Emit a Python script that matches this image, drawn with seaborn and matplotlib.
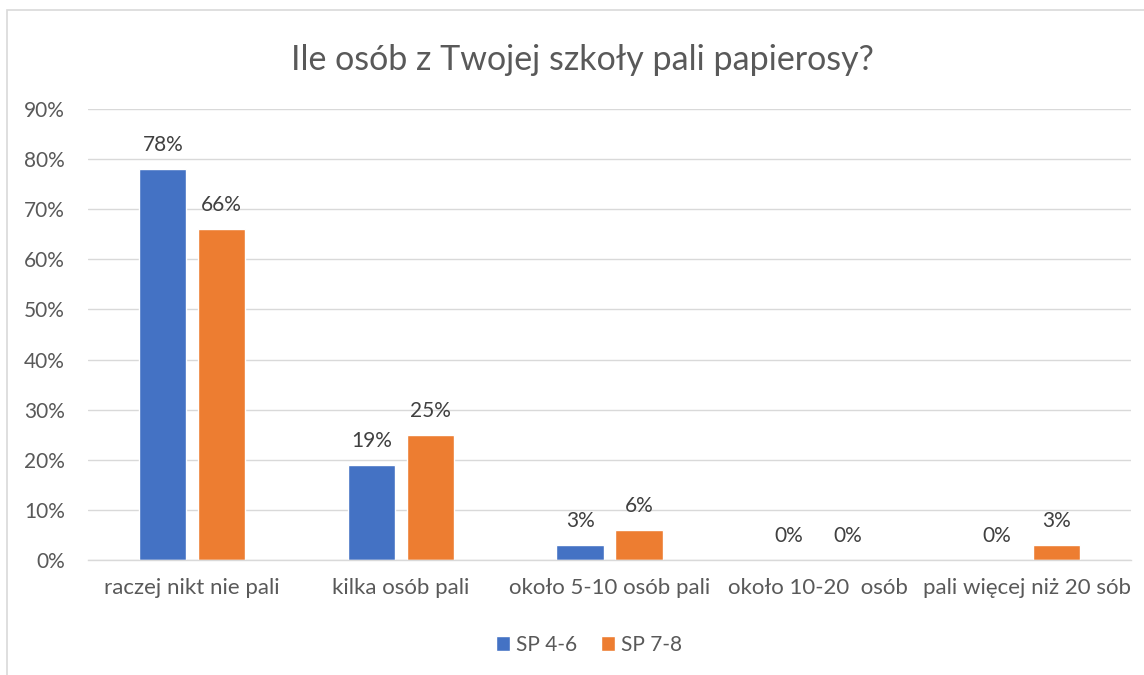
import matplotlib
matplotlib.use("Agg")
import matplotlib.pyplot as plt
import seaborn as sns
import pandas as pd
from matplotlib.patches import Rectangle
from matplotlib.ticker import PercentFormatter

categories = ["raczej nikt nie pali", "kilka osób pali", "około 5-10 osób pali",
              "około 10-20  osób", "pali więcej niż 20 sób"]
series_names = ["SP 4-6", "SP 7-8"]
sp46 = [78, 19, 3, 0, 0]
sp78 = [66, 25, 6, 0, 3]
yticks = [0, 10, 20, 30, 40, 50, 60, 70, 80, 90]
title = "Ile osób z Twojej szkoły pali papierosy?"

df = pd.DataFrame({
    "kategoria": categories * 2,
    "seria": [series_names[0]] * len(categories) + [series_names[1]] * len(categories),
    "wartosc": sp46 + sp78,
})

sns.set_theme(style="white")
plt.rcParams["font.family"] = ["Lato", "DejaVu Sans"]

txt = "#595959"
fig = plt.figure(figsize=(11.44, 6.75), dpi=100)
ax = fig.add_axes([88 / 1144, (675 - 560) / 675, (1131 - 88) / 1144, (560 - 109) / 675])

palette = {"SP 4-6": "#4472C4", "SP 7-8": "#ED7D31"}
sns.barplot(data=df, x="kategoria", y="wartosc", hue="seria", order=categories,
            hue_order=series_names, palette=palette, width=0.565, gap=0.2,
            saturation=1, ax=ax, legend=True)

ax.set_ylim(0, 90)
ax.set_yticks(yticks)
ax.yaxis.set_major_formatter(PercentFormatter(decimals=0))
ax.set_xlim(-0.5, len(categories) - 0.5)
ax.grid(axis="y", color="#D9D9D9", linewidth=1)
ax.set_axisbelow(True)
for s in ["top", "right", "left"]:
    ax.spines[s].set_visible(False)
ax.spines["bottom"].set_color("#D9D9D9")
ax.spines["bottom"].set_linewidth(1)
ax.tick_params(axis="both", length=0, colors=txt)
ax.tick_params(axis="y", pad=16.5, labelsize=15)
ax.tick_params(axis="x", pad=13, labelsize=16)
ax.set_xlabel("")
ax.set_ylabel("")

for cont in ax.containers:
    ax.bar_label(cont, labels=[f"{v:.0f}%" for v in cont.datavalues],
                 padding=10, fontsize=15, color="#404040")

leg = ax.legend(loc="center", bbox_to_anchor=(589 / 1144, (675 - 645) / 675),
                bbox_transform=fig.transFigure,
                ncol=2, frameon=False, fontsize=15, handlelength=0.7, handleheight=0.7,
                handletextpad=0.3, columnspacing=1.1)
for t in leg.get_texts():
    t.set_color(txt)

fig.text(582 / 1144, (675 - 60) / 675, title, ha="center", va="center", fontsize=24.5,
         color=txt, fontweight="normal")

fig.patches.append(Rectangle((7 / 1144, -0.01), 1.05, (675 - 10) / 675 + 0.01,
                             transform=fig.transFigure, fill=False,
                             edgecolor="#D9D9D9", linewidth=1.2))

fig.savefig("out.png", dpi=100)
